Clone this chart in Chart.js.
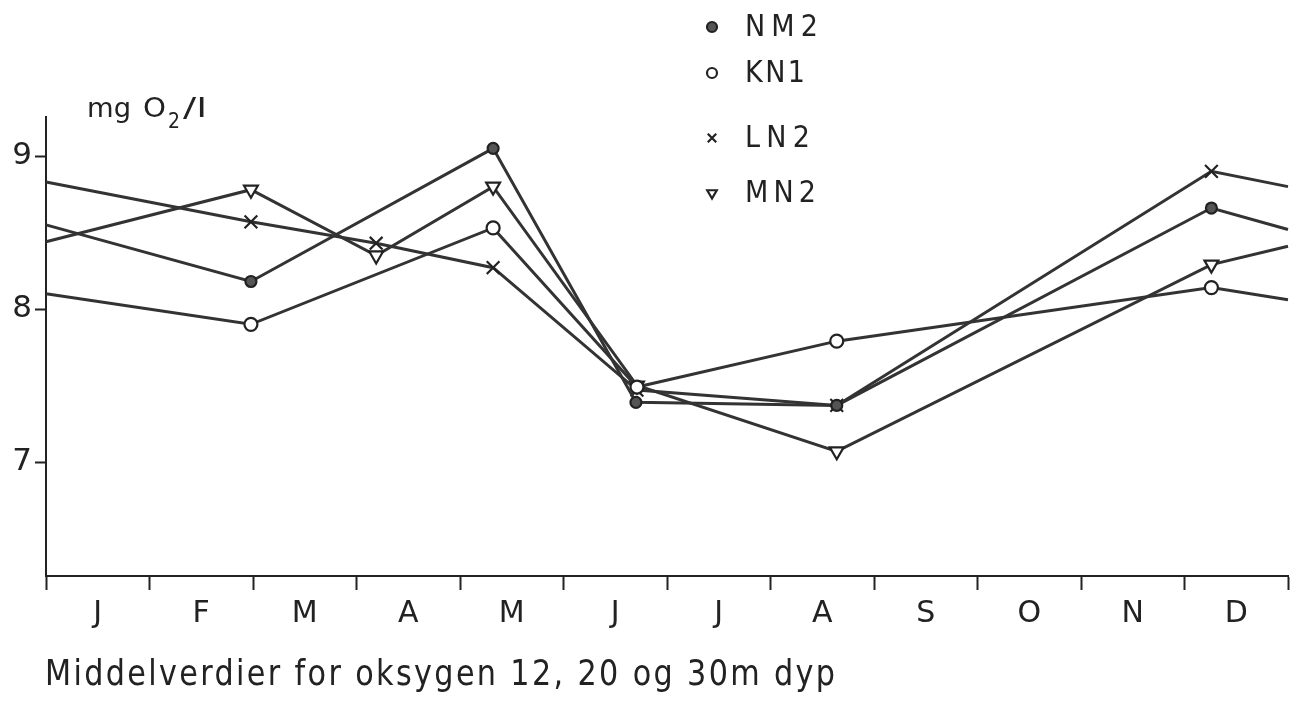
<!DOCTYPE html>
<html>
<head>
<meta charset="utf-8">
<script src="https://cdn.jsdelivr.net/npm/chart.js@4.4.1/dist/chart.umd.min.js"></script>
<style>
  html, body { margin: 0; padding: 0; background: #fff; }
  #wrap { width: 1304px; height: 703px; }
</style>
</head>
<body>
<div id="wrap"><canvas id="c" width="1304" height="703"></canvas></div>
<script>
// ---- data (x in months from 1 Jan: 0..12) ----
const months = ['J','F','M','A','M','J','J','A','S','O','N','D'];
const yTickValues = [7, 8, 9];

const nm2X = [0, 1.98, 4.32, 5.70, 7.64, 11.26, 12];
const nm2Y = [8.55, 8.18, 9.05, 7.39, 7.37, 8.66, 8.52];

const kn1X = [0, 1.98, 4.32, 5.71, 7.64, 11.26, 12];
const kn1Y = [8.10, 7.90, 8.53, 7.49, 7.79, 8.14, 8.06];

const ln2X = [0, 1.98, 3.19, 4.32, 5.71, 7.64, 11.26, 12];
const ln2Y = [8.83, 8.57, 8.43, 8.27, 7.47, 7.37, 8.90, 8.80];

const mn2X = [0, 1.98, 3.19, 4.32, 5.71, 7.64, 11.26, 12];
const mn2Y = [8.44, 8.78, 8.35, 8.80, 7.50, 7.07, 8.29, 8.41];

const seriesNames = ['NM2', 'KN1', 'LN2', 'MN2'];
const caption = 'Middelverdier for oksygen 12, 20 og 30m dyp';

const INK = '#222';
const LINE = '#333';
const FONT = 'DejaVu Sans';

function pts(xs, ys) { return xs.map((x, i) => ({ x: x, y: ys[i] })); }
function endlessRadius(r) {
  return ctx => (ctx.dataIndex === 0 || ctx.dataIndex === ctx.dataset.data.length - 1) ? 0 : r;
}

const styles = [
  { style: 'circle', r: 5.5, fill: '#555', rot: 0, legR: 5 },
  { style: 'circle', r: 6.5, fill: '#fff', rot: 0, legR: 5 },
  { style: 'crossRot', r: 9, fill: '#fff', rot: 0, legR: 6 },
  { style: 'triangle', r: 8, fill: '#fff', rot: 180, legR: 5.5 }
];

const raw = [[nm2X, nm2Y], [kn1X, kn1Y], [ln2X, ln2Y], [mn2X, mn2Y]];
const datasets = raw.map((d, i) => ({
  label: seriesNames[i],
  data: pts(d[0], d[1]),
  borderColor: LINE,
  borderWidth: 3,
  backgroundColor: styles[i].fill,
  pointStyle: styles[i].style,
  pointRadius: endlessRadius(styles[i].r),
  pointBorderColor: INK,
  pointBorderWidth: 2.2,
  pointBackgroundColor: styles[i].fill,
  pointRotation: styles[i].rot,
  tension: 0,
  clip: false
}));

// draw text with horizontal squeeze sx and tracking so that it spans `width`
function trackedText(c, text, x, y, width, sx) {
  c.save();
  c.letterSpacing = '0px';
  const w = c.measureText(text).width;
  const extra = text.length > 1 ? (width - w * sx) / (text.length - 1) / sx : 0;
  c.translate(x, y);
  c.scale(sx, 1);
  c.letterSpacing = extra.toFixed(2) + 'px';
  c.fillText(text, 0, 0);
  c.restore();
}
function fitText(c, text, x, y, width) {
  const w = c.measureText(text).width;
  c.save();
  c.translate(x, y);
  c.scale(width / w, 1);
  c.fillText(text, 0, 0);
  c.restore();
}

const decor = {
  id: 'decor',
  afterDraw(chart) {
    const c = chart.ctx;
    c.save();
    c.fillStyle = INK;
    c.textBaseline = 'alphabetic';
    c.textAlign = 'left';
    // y-axis title with subscript
    c.font = '27px ' + FONT;
    fitText(c, 'mg', 87, 117, 44);
    fitText(c, 'O', 143, 117, 23);
    c.font = '21px ' + FONT;
    fitText(c, '2', 168, 128, 12);
    c.font = '27px ' + FONT;
    fitText(c, '/l', 183, 117, 24);

    // legend
    const legY = [27, 73, 138, 193];
    const legW = [73, 60, 65, 71];
    legY.forEach((y, i) => {
      const s = styles[i];
      c.lineWidth = 2.2;
      c.strokeStyle = INK;
      c.fillStyle = s.fill;
      c.beginPath();
      Chart.helpers.drawPoint(c, { pointStyle: s.style, radius: s.legR, rotation: s.rot, borderWidth: 2.2 }, 712, y);
      c.fillStyle = INK;
      c.font = '30px ' + FONT;
      trackedText(c, seriesNames[i], 745, y + 9, legW[i], 0.9);
    });

    // caption
    c.font = '36px ' + FONT;
    trackedText(c, caption, 45, 685, 790, 0.84);
    c.restore();
  }
};

new Chart(document.getElementById('c'), {
  type: 'line',
  data: { datasets },
  options: {
    responsive: false,
    animation: false,
    layout: { padding: { top: 117, right: 16, left: 0, bottom: 0 } },
    plugins: { legend: { display: false }, tooltip: { enabled: false }, title: { display: false } },
    scales: {
      x: {
        type: 'linear',
        min: 0,
        max: months.length,
        afterFit(s) { s.height = 127; },
        afterBuildTicks(s) {
          const t = [];
          for (let i = 0; i <= months.length; i++) {
            t.push({ value: i });
            if (i < months.length) t.push({ value: i + 0.5 });
          }
          s.ticks = t;
        },
        ticks: {
          autoSkip: false,
          maxRotation: 0,
          padding: 6,
          color: INK,
          font: { family: FONT, size: 30 },
          callback: v => (v % 1 === 0) ? '' : months[Math.floor(v)]
        },
        grid: {
          drawOnChartArea: false,
          drawTicks: true,
          tickLength: 14,
          tickWidth: 2,
          tickColor: ctx => (ctx.tick && ctx.tick.value % 1 === 0) ? INK : 'rgba(0,0,0,0)'
        },
        border: { display: true, color: INK, width: 2 }
      },
      y: {
        type: 'linear',
        min: 6.255,
        max: 9.255,
        afterFit(s) { s.width = 46; },
        afterBuildTicks(s) { s.ticks = yTickValues.map(v => ({ value: v })); },
        ticks: {
          padding: 3,
          color: INK,
          font: { family: FONT, size: 31 },
          callback: v => String(v)
        },
        grid: {
          drawOnChartArea: false,
          drawTicks: true,
          tickLength: 11,
          tickWidth: 2,
          tickColor: INK
        },
        border: { display: true, color: INK, width: 2 }
      }
    }
  },
  plugins: [decor]
});
</script>
</body>
</html>
